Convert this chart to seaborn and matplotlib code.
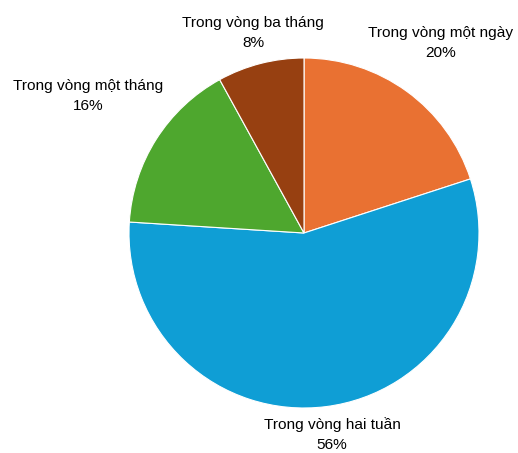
import matplotlib
matplotlib.use("Agg")
import matplotlib.pyplot as plt
import seaborn as sns

sns.set_style("white")
plt.rcParams['font.family'] = ['Liberation Sans', 'DejaVu Sans']

categories = ["Trong vòng một ngày", "Trong vòng hai tuần", "Trong vòng một tháng", "Trong vòng ba tháng"]
values = [20, 56, 16, 8]
colors = ["#E97132", "#0F9ED5", "#4EA72E", "#974011"]
label_pos = [(0.783, 1.085), (0.160, -1.150), (-1.234, 0.785), (-0.291, 1.145)]

fig = plt.figure(figsize=(5.18, 4.53), dpi=100)
ax = fig.add_axes([(304 - 175) / 518, (453 - 233 - 175) / 453, 350 / 518, 350 / 453])
ax.pie(values, colors=sns.color_palette(colors), startangle=90, counterclock=False,
       wedgeprops=dict(edgecolor="white", linewidth=0.8))
for cat, val, (x, y) in zip(categories, values, label_pos):
    ax.text(x, y, f"{cat}\n{val}%", ha="center", va="center", fontsize=11.1,
            color="#000000", linespacing=1.55)
ax.set_xlim(-1, 1)
ax.set_ylim(-1, 1)
ax.set_aspect("equal")
ax.axis("off")
fig.savefig("out.png", dpi=100, facecolor="white")
